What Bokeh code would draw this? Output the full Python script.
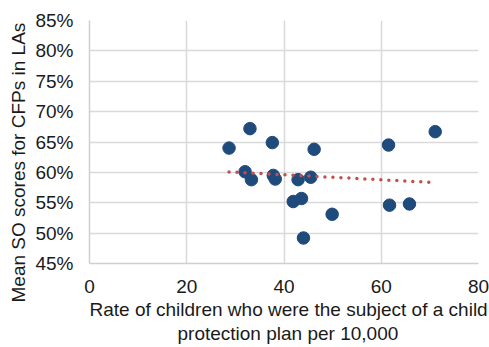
import numpy as np
from bokeh.plotting import figure
from bokeh.models import (ColumnDataSource, NumeralTickFormatter, FixedTicker,
                          Range1d, Title)
from bokeh.embed import file_html
from bokeh.resources import INLINE

# Rate of children subject to a child protection plan (per 10,000) by LA
rate = [28.7, 33.0, 37.6, 46.2, 61.5, 71.1, 32.0, 33.3, 37.8,
        38.2, 42.9, 45.5, 41.9, 43.6, 49.9, 61.7, 65.8, 44.0]
# Mean SO score for CFPs in the same LAs
score = [0.640, 0.672, 0.649, 0.638, 0.645, 0.667, 0.601, 0.588, 0.595,
         0.589, 0.588, 0.592, 0.552, 0.557, 0.531, 0.546, 0.548, 0.492]

x_ticks = [0, 20, 40, 60, 80]
y_ticks = [0.45, 0.50, 0.55, 0.60, 0.65, 0.70, 0.75, 0.80, 0.85]

x_title = ["Rate of children who were the subject of a child",
           "protection plan per 10,000"]
y_title = "Mean SO scores for CFPs in LAs"

FONT = "Liberation Sans"
FSIZE = "19px"
TEXT = "#1a1a1a"
GRID = "#D9D9D9"

p = figure(width=489, height=347, output_backend="svg", toolbar_location=None,
           x_range=Range1d(0, 80), y_range=Range1d(0.45, 0.85),
           min_border_left=89, min_border_right=11,
           min_border_top=20, min_border_bottom=84)
p.outline_line_color = None
p.background_fill_color = "white"
p.border_fill_color = "white"

for ax in (p.xaxis[0], p.yaxis[0]):
    ax.axis_line_color = "#CFCFCF"
    ax.axis_line_width = 1.5
    ax.major_tick_line_color = None
    ax.minor_tick_line_color = None
    ax.major_tick_out = 0
    ax.major_tick_in = 0
    ax.minor_tick_out = 0
    ax.minor_tick_in = 0
    ax.major_label_text_font = FONT
    ax.major_label_text_font_size = FSIZE
    ax.major_label_text_color = TEXT

p.xaxis.ticker = FixedTicker(ticks=x_ticks)
p.yaxis.ticker = FixedTicker(ticks=y_ticks)
p.yaxis.formatter = NumeralTickFormatter(format="0%")
p.xaxis.major_label_standoff = 16
p.yaxis.major_label_standoff = 16

p.xgrid.ticker = FixedTicker(ticks=x_ticks)
p.ygrid.ticker = FixedTicker(ticks=y_ticks)
for g in (p.xgrid[0], p.ygrid[0]):
    g.grid_line_color = GRID
    g.grid_line_width = 1.5

src = ColumnDataSource(dict(rate=rate, score=score))
p.scatter("rate", "score", source=src, size=12.5,
          fill_color="#1F4A7C", line_color="#1F4A7C")

# Linear least-squares trendline across the observed range
slope, intercept = np.polyfit(rate, score, 1)
tx = [min(rate), max(rate)]
ty = [slope * x + intercept for x in tx]
p.line(tx, ty, line_color="#C0504D", line_width=3.5,
       line_dash="0 8", line_cap="round")


def axis_title(text, offset, standoff):
    return Title(text=text, align="left", offset=offset, standoff=standoff,
                 text_font=FONT, text_font_size=FSIZE,
                 text_font_style="normal", text_color=TEXT)


# Vertical title, starting a little below the frame's bottom edge
p.add_layout(axis_title(y_title, -39, 8), "left")
# Two-line horizontal title; the second line is centred under the first
p.add_layout(axis_title(x_title[0], 0, 2), "below")
p.add_layout(axis_title(x_title[1], 88, 0), "below")

open("out.html", "w").write(file_html(p, INLINE))
